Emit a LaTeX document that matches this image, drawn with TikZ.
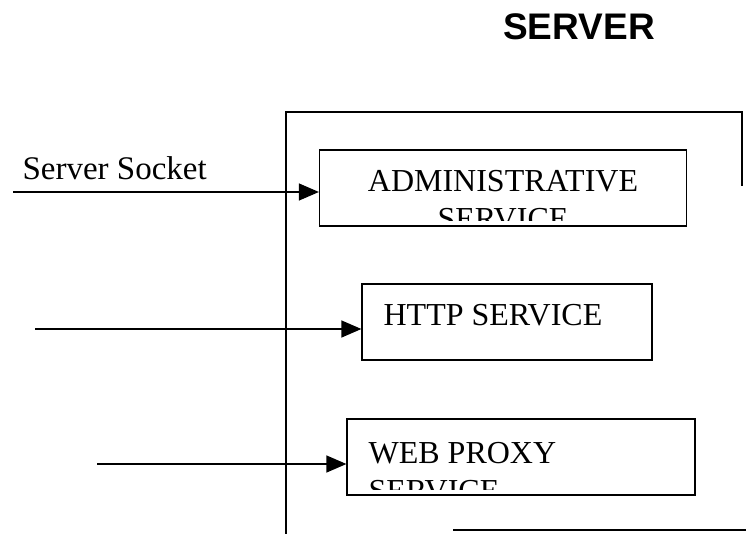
\documentclass[tikz,border=0pt]{standalone}
\usepackage{fontspec}
\setmainfont{Liberation Serif}
\newfontfamily\headfont{Liberation Sans}
\usetikzlibrary{arrows.meta}

\begin{document}
\begin{tikzpicture}[x=1pt,y=-1pt,line width=1.2pt,
    service/.style={draw,rectangle,inner sep=0pt},
    txt/.style={font=\fontsize{32}{38}\selectfont,inner sep=0pt},
    link/.style={-{Triangle[length=20pt,width=17pt]}}]
      \useasboundingbox (0,0) rectangle (746,534);

      \def \Services {
        admin/503/188/367/76,
        http/507/322/290/76,
        proxy/521/457/348/76}
      \def \Texts {
        admin/503/170/north/center/{ADMINISTRATIVE\\SERVICE},
        http/383/304/north west/left/{HTTP SERVICE},
        proxy/368/442/north west/left/{WEB PROXY\\SERVICE}}
      \def \Links {
        13/192/admin,
        35/329/http,
        97/464/proxy}

      \node[font=\headfont\bfseries\fontsize{37}{44}\selectfont,inner sep=0pt] (title) at (579,27) {SERVER};

      \draw (286,534) -- (286,112) -- (742,112) -- (742,186);
      \draw (453,530) -- (746,530);

      \foreach \id / \x / \y / \w / \h in \Services {
        \node[service,minimum width=\w pt,minimum height=\h pt] (\id) at (\x, \y) {};
      }
      \foreach \id / \x / \y / \anc / \al / \t in \Texts {
        \begin{scope}
          \clip ([yshift=6pt]\id.south west) rectangle (\id.north east);
          \node[txt,anchor=\anc,align=\al] (\id-text) at (\x, \y) {\t};
        \end{scope}
      }
      \foreach \x / \y / \id in \Links {
        \coordinate (in-\id) at (\x, \y);
        \draw[link] (in-\id) -- (in-\id -| \id.west);
      }
      \node[txt,font=\fontsize{33}{38}\selectfont,anchor=base west] (socket) at (22,180) {Server Socket};
    \end{tikzpicture}
\end{document}
